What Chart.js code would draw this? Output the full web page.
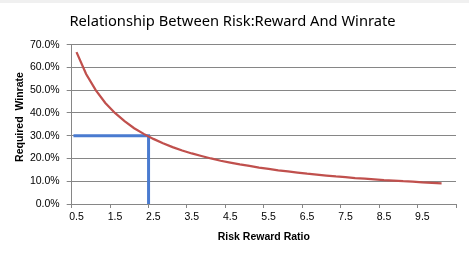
<!DOCTYPE html>
<html>
<head>
<meta charset="utf-8">
<script src="https://cdn.jsdelivr.net/npm/chart.js@4.4.1/dist/chart.umd.min.js"></script>
<style>
  html, body { margin: 0; padding: 0; background: #fff; }
  #wrap { width: 469px; height: 256px; position: relative; }
  canvas { background: linear-gradient(#f0f0f0 3px, #fff 3px); }
</style>
</head>
<body>
<div id="wrap"><canvas id="myChart" width="469" height="256"></canvas></div>
<script>
// risk:reward categories (0.5 .. 10.25, step 0.25), last one has no value
const ratios = [
  "0.5", "0.75", "1", "1.25", "1.5", "1.75", "2", "2.25", "2.5", "2.75",
  "3", "3.25", "3.5", "3.75", "4", "4.25", "4.5", "4.75", "5", "5.25",
  "5.5", "5.75", "6", "6.25", "6.5", "6.75", "7", "7.25", "7.5", "7.75",
  "8", "8.25", "8.5", "8.75", "9", "9.25", "9.5", "9.75", "10", "10.25",
];
// required winrate in %
const winrate = [
  66.7, 57.1, 50.0, 44.4, 40.0, 36.4, 33.3, 30.8, 28.6, 26.7,
  25.0, 23.5, 22.2, 21.1, 20.0, 19.0, 18.2, 17.4, 16.7, 16.0,
  15.4, 14.8, 14.3, 13.8, 13.3, 12.9, 12.5, 12.1, 11.8, 11.4,
  11.1, 10.8, 10.5, 10.3, 10.0, 9.8, 9.5, 9.3, 9.1,
];
// blue guide at ratio ~2.4 -> 30%
const guideX = [0.42, 2.375, 2.375];
const guideY = [30, 30, 0];
const yTicks = [0, 10, 20, 30, 40, 50, 60, 70];

const axisGrey = "#868686";
const tickFont = { family: "'Liberation Sans', Arial, sans-serif", size: 10.5 };
const titleFont = { family: "'Liberation Sans', Arial, sans-serif", size: 10.5, weight: "bold" };

const ctx = document.getElementById("myChart").getContext("2d");
const myChart = new Chart(ctx, {
  type: "line",
  data: {
    labels: ratios,
    datasets: [
      {
        label: "Required Winrate",
        data: winrate,
        borderColor: "#C0504D",
        borderWidth: 2.25,
        pointRadius: 0,
        tension: 0,
        fill: false,
      },
      {
        label: "guide",
        data: guideX.map((x, i) => ({ x: x, y: guideY[i] })),
        xAxisID: "xg",
        borderColor: "#4A7BD0",
        borderWidth: 3,
        pointRadius: 0,
        tension: 0,
        fill: false,
      },
    ],
  },
  options: {
    responsive: false,
    animation: false,
    events: [],
    layout: { padding: { top: 6, left: 9, right: 13, bottom: 0 } },
    plugins: {
      legend: { display: false },
      tooltip: { enabled: false },
      title: {
        display: true,
        text: "Relationship Between Risk:Reward And Winrate",
        color: "#000",
        font: { family: "'Noto Sans', sans-serif", size: 14.7, weight: "normal" },
        padding: { top: 7, bottom: 14 },
      },
    },
    scales: {
      x: {
        type: "category",
        offset: true,
        border: { display: true, color: axisGrey, width: 1 },
        grid: {
          offset: true,
          drawOnChartArea: false,
          drawTicks: true,
          tickLength: 4,
          color: (c) => (c.index === undefined || c.index % 4 === 0 ? axisGrey : "rgba(0,0,0,0)"),
        },
        ticks: {
          autoSkip: false,
          maxRotation: 0,
          padding: 3,
          color: "#000",
          font: tickFont,
          callback: function (val, i) {
            return i % 4 === 0 ? this.getLabelForValue(val) : "";
          },
        },
        title: {
          display: true,
          text: "Risk Reward Ratio",
          color: "#000",
          font: titleFont,
          padding: { top: 0, bottom: 13 },
        },
        afterFit: (s) => { s.height = 52; },
      },
      xg: {
        type: "linear",
        display: false,
        min: 0.375,
        max: 10.375,
      },
      y: {
        min: 0,
        max: 70,
        border: { display: true, color: axisGrey, width: 1 },
        grid: { color: axisGrey, tickLength: 5 },
        afterBuildTicks: (s) => { s.ticks = yTicks.map((v) => ({ value: v })); },
        ticks: {
          padding: 7,
          color: "#000",
          font: tickFont,
          callback: (v) => v.toFixed(1) + "%",
        },
        title: {
          display: true,
          text: "     Required  Winrate",
          color: "#000",
          font: titleFont,
          padding: { top: 5, bottom: 0 },
        },
        afterFit: (s) => { s.width = 62.7; },
      },
    },
  },
});
</script>
</body>
</html>
